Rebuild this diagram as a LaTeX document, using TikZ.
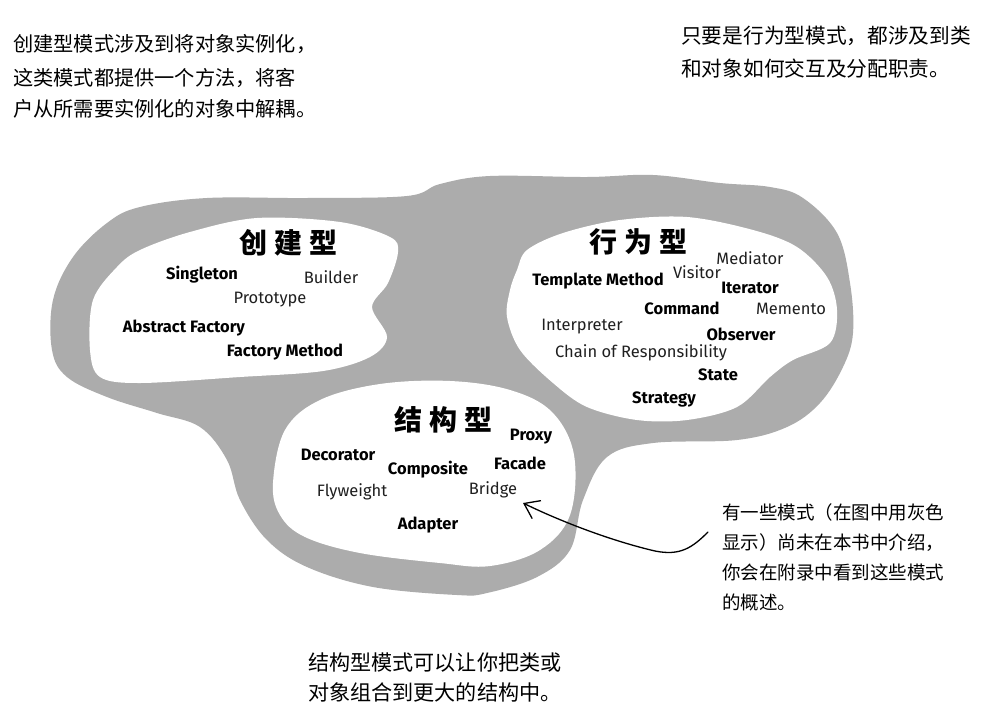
\documentclass[tikz,border=0pt]{standalone}
\usepackage{fontspec}
\setmainfont{Fira Sans}
\newfontfamily\cjk{Noto Sans CJK SC}
\usetikzlibrary{arrows.meta}
\definecolor{blobgray}{RGB}{172,172,172}
\begin{document}
\begin{tikzpicture}[x=1pt,y=-1pt,
  pat/.style={font=\fontsize{16.5}{16.5}\selectfont\bfseries, inner sep=0pt, text=black},
  patg/.style={font=\fontsize{16.5}{16.5}\selectfont, inner sep=0pt, text=black!88},
  cattitle/.style={font=\cjk\bfseries\fontsize{28}{28}\selectfont, inner sep=0pt},
  para/.style={font=\cjk\fontsize{20.2}{20.2}\selectfont, inner sep=0pt, anchor=base west},
  parar/.style={font=\cjk\fontsize{20.7}{20.7}\selectfont, inner sep=0pt, anchor=base west},
  parab/.style={font=\cjk\fontsize{21.1}{21.1}\selectfont, inner sep=0pt, anchor=base west},
  hand/.style={font=\cjk\fontsize{18.5}{18.5}\selectfont, inner sep=0pt, anchor=base west},
  white blob/.style={fill=white}]
\useasboundingbox[fill=white] (0,0) rectangle (984,718);

% outer gray blob
\fill[blobgray] plot[smooth cycle, tension=0.6] coordinates {
 (73,257) (107,223) (140,207) (207,198) (307,198) (407,196) (440,184) (490,176)
 (587,177) (653,175) (720,183) (770,187) (803,198) (837,233) (850,283) (853,333)
 (843,367) (820,403) (787,427) (737,440) (653,443) (607,457) (583,500) (570,550)
 (537,577) (487,593) (457,595) (373,587) (307,567) (267,540) (240,500) (227,460)
 (200,427) (157,413) (107,397) (67,377) (52,350) (53,300)};

% creational white
\fill[white blob] plot[smooth cycle, tension=0.55] coordinates {
 (90,350) (93,300) (117,267) (140,250) (190,232) (257,218) (340,222) (390,237)
 (398,252) (388,283) (372,307) (387,337) (370,357) (323,371) (240,377) (140,383)
 (100,377)};

% behavioral white
\fill[white blob] plot[smooth cycle, tension=0.55] coordinates {
 (510,290) (517,270) (527,250) (563,233) (620,220) (687,217) (753,230) (797,247)
 (827,277) (837,310) (830,343) (793,360) (770,377) (737,407) (687,420) (637,420)
 (587,407) (553,383) (520,350) (507,317)};

% structural white
\fill[white blob] plot[smooth cycle, tension=0.6] coordinates {
 (273,483) (285,430) (320,400) (380,384) (450,381) (510,390) (552,412) (574,455)
 (570,515) (540,550) (490,566) (440,563) (360,553) (305,537) (280,515)};

% category titles
\node[cattitle] (tcre) at (288,243) {创\hspace{7pt}建\hspace{7pt}型};
\node[cattitle] (tbeh) at (638,242) {行\hspace{7pt}为\hspace{7pt}型};
\node[cattitle] (tstr) at (443,420) {结\hspace{7pt}构\hspace{7pt}型};

% creational patterns
\node[pat]  (singleton) at (202,275) {Singleton};
\node[patg] (builder)   at (331,277) {Builder};
\node[patg] (prototype) at (270,300) {Prototype};
\node[pat]  (absfac)    at (184,328) {Abstract Factory};
\node[pat]  (facmeth)   at (285,352) {Factory Method};

% behavioral patterns
\node[patg] (mediator)  at (750,258) {Mediator};
\node[patg] (visitor)   at (697,272) {Visitor};
\node[pat]  (template)  at (598,281) {Template Method};
\node[pat]  (iterator)  at (750,288) {Iterator};
\node[pat]  (command)   at (682,308) {Command};
\node[patg] (memento)   at (791,309) {Memento};
\node[patg] (interp)    at (582,327) {Interpreter};
\node[pat]  (observer)  at (741,334) {Observer};
\node[patg] (chain)     at (641,353) {Chain of Responsibility};
\node[pat]  (state)     at (718,375) {State};
\node[pat]  (strategy)  at (664,399) {Strategy};

% structural patterns
\node[pat]  (proxy)     at (531,437) {Proxy};
\node[pat]  (decorator) at (338,455) {Decorator};
\node[pat]  (facade)    at (520,463) {Facade};
\node[pat]  (composite) at (428,470) {Composite};
\node[patg] (flyweight) at (352,492) {Flyweight};
\node[patg] (bridge)    at (493,490) {Bridge};
\node[pat]  (adapter)   at (428,525) {Adapter};

% paragraphs
\node[para] (tl1) at (13,51)  {创建型模式涉及到将对象实例化，};
\node[para] (tl2) at (13,85)  {这类模式都提供一个方法，将客};
\node[para] (tl3) at (13,116) {户从所需要实例化的对象中解耦。};

\node[parar] (tr1) at (681,43) {只要是行为型模式，都涉及到类};
\node[parar] (tr2) at (681,76) {和对象如何交互及分配职责。};

\node[parab] (bt1) at (308,670) {结构型模式可以让你把类或};
\node[parab] (bt2) at (308,700) {对象组合到更大的结构中。};

\node[hand] (n1) at (722,519) {有一些模式（在图中用灰色};
\node[hand] (n2) at (722,549) {显示）尚未在本书中介绍，};
\node[hand] (n3) at (722,579) {你会在附录中看到这些模式};
\node[hand] (n4) at (722,609) {的概述。};

% arrow
\coordinate (tail) at (708,532);
\coordinate (tip) at (523,503);
\draw[line width=1.3pt, line cap=round, -{Straight Barb[length=14pt,width=20pt,line width=1.3pt]}]
  (tail) .. controls (692,548) and (680,556) .. (655,551)
         .. controls (612,541) and (562,522) .. (tip);
\end{tikzpicture}
\end{document}
